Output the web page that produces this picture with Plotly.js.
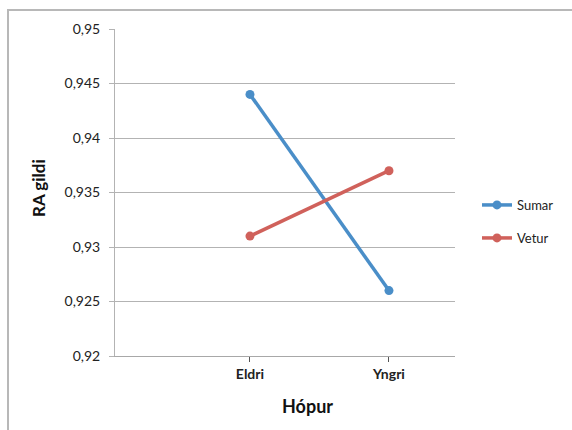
<!DOCTYPE html>
<html>
<head>
<meta charset="utf-8">
<script src="https://cdn.plot.ly/plotly-3.0.1.min.js"></script>
<style>html,body{margin:0;padding:0;background:#fff;}#chart{width:572px;height:430px;}</style>
</head>
<body>
<div id="chart"></div>
<script>
const categories = ["Eldri", "Yngri"];
const sumar = [0.944, 0.926];
const vetur = [0.931, 0.937];
const seriesNames = ["Sumar", "Vetur"];
const yTickVals = [0.92, 0.925, 0.93, 0.935, 0.94, 0.945, 0.95];
const yTickText = ["0,92", "0,925", "0,93", "0,935", "0,94", "0,945", "0,95"];

const FONT = "Lato, 'Open Sans', sans-serif";
const blue = "#4a8ec8";
const red = "#d0615b";

const traces = [
  {x: categories, y: sumar, name: seriesNames[0], type: "scatter", mode: "lines+markers",
   line: {color: blue, width: 3.5}, marker: {color: blue, size: 9}, legend: "legend"},
  {x: categories, y: vetur, name: seriesNames[1], type: "scatter", mode: "lines+markers",
   line: {color: red, width: 3.5}, marker: {color: red, size: 9}, legend: "legend2"}
];

const layout = {
  width: 572, height: 430,
  margin: {l: 115, r: 117, t: 29, b: 74},
  paper_bgcolor: "#fff", plot_bgcolor: "#fff",
  font: {family: FONT, color: "#222"},
  xaxis: {
    type: "category", range: [-0.971, 1.475],
    showgrid: false, zeroline: false,
    showline: true, linecolor: "#a8a8a8", linewidth: 1,
    ticks: "outside", ticklen: 5, tickcolor: "#555",
    tickfont: {family: FONT, size: 14, color: "#222", weight: "bold"}
  },
  yaxis: {
    range: [0.92, 0.95], tickvals: yTickVals, ticktext: yTickText,
    showgrid: true, gridcolor: "#b3b3b3", gridwidth: 1, zeroline: false,
    showline: true, linecolor: "#b3b3b3", linewidth: 1,
    ticks: "outside", ticklen: 5, tickcolor: "#b3b3b3",
    ticklabelstandoff: 6,
    tickfont: {family: FONT, size: 14, color: "#222"}
  },
  showlegend: true,
  legend: {x: 1.0647, y: 0.4618, xanchor: "left", yanchor: "middle",
    bgcolor: "rgba(0,0,0,0)", font: {family: FONT, size: 13, color: "#222"}},
  legend2: {x: 1.0647, y: 0.3609, xanchor: "left", yanchor: "middle",
    bgcolor: "rgba(0,0,0,0)", font: {family: FONT, size: 13, color: "#222"}},
  annotations: [
    {text: "<b>RA gildi</b>", xref: "paper", yref: "paper", x: -0.2235, y: 0.5138,
     xanchor: "center", yanchor: "middle", textangle: -90, showarrow: false,
     font: {family: FONT, size: 17, color: "#111"}},
    {text: "<b>Hópur</b>", xref: "paper", yref: "paper", x: 0.5676, y: -0.153,
     xanchor: "center", yanchor: "middle", showarrow: false,
     font: {family: FONT, size: 18, color: "#111"}}
  ],
  shapes: [
    {type: "rect", xref: "paper", yref: "paper", x0: -0.3147, x1: 1.36, y0: -0.25, y1: 1.058,
     line: {color: "#b8b8b8", width: 2}, fillcolor: "rgba(0,0,0,0)", layer: "below"}
  ]
};

Plotly.newPlot("chart", traces, layout, {displayModeBar: false, staticPlot: true});
</script>
</body>
</html>
